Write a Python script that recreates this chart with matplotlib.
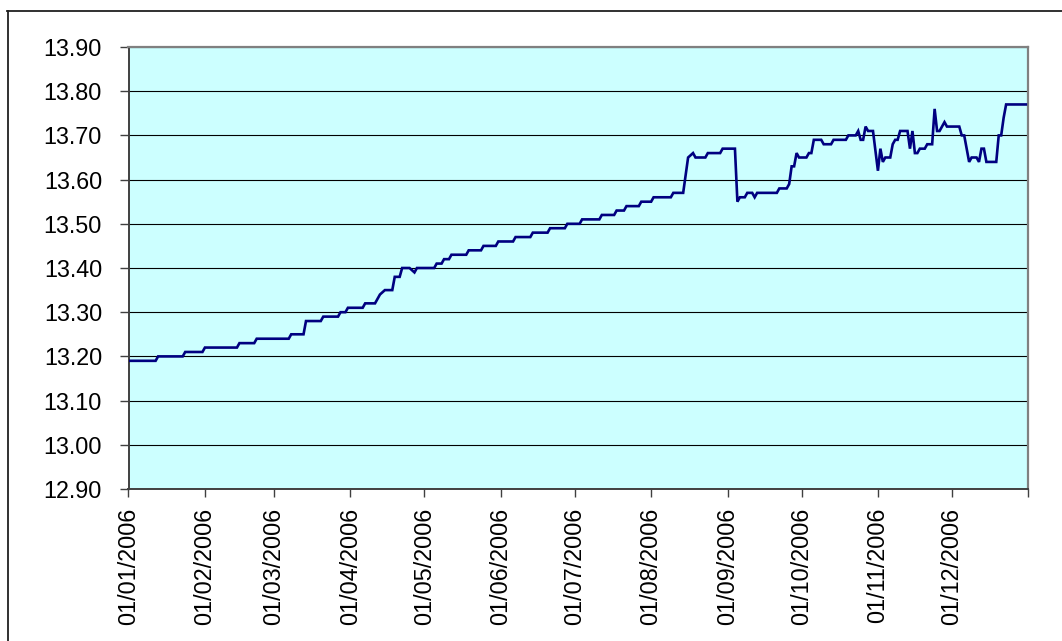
import matplotlib
matplotlib.use('Agg')
import matplotlib.pyplot as plt
import numpy as np
from matplotlib.lines import Line2D

# Day offsets from 01/01/2006 and rate values (vertices of the daily series)
days = [0, 11, 12, 22, 23, 30, 31, 44, 45, 51, 52, 65, 66, 71, 72, 78, 79, 85, 86, 88,
        89, 95, 96, 100, 101, 102, 104, 107, 108, 110, 111, 114, 116, 117, 124, 125, 127, 128, 130, 131,
        137, 138, 143, 144, 149, 150, 156, 157, 163, 164, 170, 171, 177, 178, 183, 184, 191, 192, 197, 198,
        201, 202, 207, 208, 212, 213, 220, 221, 225, 227, 229, 230, 234, 235, 240, 241, 246, 247, 248, 250,
        251, 253, 254, 255, 263, 264, 267, 268, 269, 270, 271, 272, 275, 276, 277, 278, 281, 282, 285, 286,
        291, 292, 295, 296, 297, 298, 299, 300, 302, 304, 305, 306, 307, 309, 310, 311, 312, 313, 316, 317,
        318, 319, 320, 321, 323, 324, 326, 327, 328, 329, 331, 332, 337, 338, 339, 341, 342, 344, 345, 346,
        347, 348, 352, 353, 354, 355, 356, 364]
values = [13.19, 13.19, 13.20, 13.20, 13.21, 13.21, 13.22, 13.22, 13.23, 13.23, 13.24, 13.24, 13.25, 13.25, 13.28, 13.28, 13.29, 13.29, 13.30, 13.30,
          13.31, 13.31, 13.32, 13.32, 13.33, 13.34, 13.35, 13.35, 13.38, 13.38, 13.40, 13.40, 13.39, 13.40, 13.40, 13.41, 13.41, 13.42, 13.42, 13.43,
          13.43, 13.44, 13.44, 13.45, 13.45, 13.46, 13.46, 13.47, 13.47, 13.48, 13.48, 13.49, 13.49, 13.50, 13.50, 13.51, 13.51, 13.52, 13.52, 13.53,
          13.53, 13.54, 13.54, 13.55, 13.55, 13.56, 13.56, 13.57, 13.57, 13.65, 13.66, 13.65, 13.65, 13.66, 13.66, 13.67, 13.67, 13.55, 13.56, 13.56,
          13.57, 13.57, 13.56, 13.57, 13.57, 13.58, 13.58, 13.59, 13.63, 13.63, 13.66, 13.65, 13.65, 13.66, 13.66, 13.69, 13.69, 13.68, 13.68, 13.69,
          13.69, 13.70, 13.70, 13.71, 13.69, 13.69, 13.72, 13.71, 13.71, 13.62, 13.67, 13.64, 13.65, 13.65, 13.68, 13.69, 13.69, 13.71, 13.71, 13.67,
          13.71, 13.66, 13.66, 13.67, 13.67, 13.68, 13.68, 13.76, 13.71, 13.71, 13.73, 13.72, 13.72, 13.70, 13.70, 13.64, 13.65, 13.65, 13.64, 13.67,
          13.67, 13.64, 13.64, 13.70, 13.70, 13.74, 13.77, 13.77]

tick_dates = ['2006-01-01', '2006-02-01', '2006-03-01', '2006-04-01', '2006-05-01', '2006-06-01',
              '2006-07-01', '2006-08-01', '2006-09-01', '2006-10-01', '2006-11-01', '2006-12-01', '2007-01-01']
tick_labels = ['01/01/2006', '01/02/2006', '01/03/2006', '01/04/2006', '01/05/2006', '01/06/2006',
               '01/07/2006', '01/08/2006', '01/09/2006', '01/10/2006', '01/11/2006', '01/12/2006', '']
y_ticks = [12.90, 13.00, 13.10, 13.20, 13.30, 13.40, 13.50, 13.60, 13.70, 13.80, 13.90]

plt.rcParams['font.family'] = ['Liberation Sans', 'DejaVu Sans']

W, H = 1062, 641
fig = plt.figure(figsize=(W / 100, H / 100), dpi=100)
fig.patch.set_facecolor('white')
left, right, top, bottom = 128.5, 1028.3, 47, 489
ax = fig.add_axes([left / W, 1 - bottom / H, (right - left) / W, (bottom - top) / H])
ax.set_facecolor('#CCFFFF')

base = np.datetime64('2006-01-01')
dates = base + np.array(days, dtype='timedelta64[D]')
ax.plot(dates, values, color='#000080', lw=1.9, zorder=3, solid_joinstyle='miter')

ax.set_xlim(np.datetime64('2006-01-01'), np.datetime64('2007-01-01'))
ax.set_ylim(12.90, 13.90)
ax.set_yticks(y_ticks)
ax.set_yticklabels([f'{v:.2f}' for v in y_ticks])
ax.set_xticks(np.array(tick_dates, dtype='datetime64[D]'))
ax.set_xticklabels(tick_labels, rotation=90, ha='center', va='top')

ax.yaxis.grid(True, color='black', lw=0.8, zorder=1)
ax.set_axisbelow(True)

for s in ['top', 'right']:
    ax.spines[s].set_color('#808080')
    ax.spines[s].set_linewidth(1.6)
for s in ['left', 'bottom']:
    ax.spines[s].set_color('#404040')
    ax.spines[s].set_linewidth(1.4)

ax.tick_params(axis='y', direction='out', length=6.5, width=1.0, color='#404040',
               labelsize=16.8, pad=12.5, labelcolor='black')
ax.tick_params(axis='x', direction='out', length=5.5, width=1.0, color='#404040',
               labelsize=16.8, pad=8, labelcolor='black')

# outer chart border (partially cropped)
fig.add_artist(Line2D([7 / W, 1.0], [1 - 10.5 / H, 1 - 10.5 / H], transform=fig.transFigure,
                      color='#202020', lw=1.3))
fig.add_artist(Line2D([7.5 / W, 7.5 / W], [1 - 10.5 / H, 0.0], transform=fig.transFigure,
                      color='#202020', lw=1.3))

fig.savefig('out.png', dpi=100, facecolor='white')
